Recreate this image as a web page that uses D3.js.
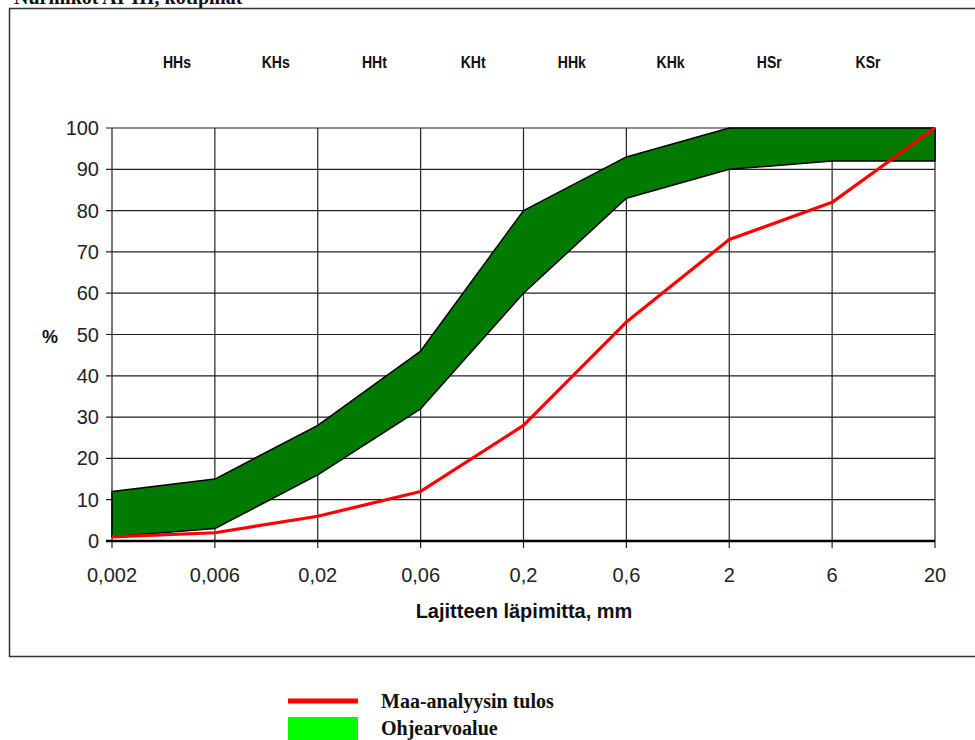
<!DOCTYPE html>
<html><head><meta charset="utf-8">
<script src="https://cdn.jsdelivr.net/npm/d3@7"></script>
<style>body{margin:0;background:#fff}svg{display:block}</style>
</head><body>
<svg id="c" width="975" height="740"></svg>
<script>
const title = "Nurmikot AI-III, kotipihat";
const sizes = ["0,002","0,006","0,02","0,06","0,2","0,6","2","6","20"];
const bandUpper = [12,15,28,46,80,93,100,100,100];
const bandLower = [1,3,16,32,60,83,90,92,92];
const result = [1,2,6,12,28,53,73,82,100];
const zones = ["HHs","KHs","HHt","KHt","HHk","KHk","HSr","KSr"];
const yTicks = [0,10,20,30,40,50,60,70,80,90,100];
const legendItems = ["Maa-analyysin tulos","Ohjearvoalue"];

const svg = d3.select("#c");
const x = d3.scalePoint().domain(sizes).range([112,935]);
const y = d3.scaleLinear().domain([0,100]).range([541,128]);
const zx = d3.scalePoint().domain(zones).range([177,868]);

// title (cropped at top, as in the source)
svg.append("text").attr("x",14).attr("y",4).attr("font-family","Liberation Serif, serif")
  .attr("font-weight","bold").attr("font-size",20).attr("fill","#111").text(title);

// outer frame
svg.append("rect").attr("x",9.5).attr("y",8.5).attr("width",1000).attr("height",648)
  .attr("fill","none").attr("stroke","#333").attr("stroke-width",1.5);

// gridlines
const g = svg.append("g");
g.selectAll(".hg").data(yTicks).join("line")
  .attr("x1",106).attr("x2",935).attr("y1",d=>y(d)).attr("y2",d=>y(d))
  .attr("stroke","#222").attr("stroke-width",1.2);
g.selectAll(".vg").data(sizes).join("line")
  .attr("x1",d=>x(d)).attr("x2",d=>x(d)).attr("y1",128).attr("y2",548)
  .attr("stroke","#222").attr("stroke-width",1.2);

// band
const band = sizes.map((s,i)=>({s,lo:bandLower[i],hi:bandUpper[i]}));
svg.append("path").datum(band)
  .attr("d",d3.area().x(d=>x(d.s)).y0(d=>y(d.lo)).y1(d=>y(d.hi)))
  .attr("fill","#007a00").attr("stroke","#000").attr("stroke-width",1.5).attr("stroke-linejoin","round");

// x axis baseline
svg.append("line").attr("x1",106).attr("x2",935).attr("y1",y(0)).attr("y2",y(0))
  .attr("stroke","#000").attr("stroke-width",2.5);

// result line
svg.append("path").datum(sizes.map((s,i)=>({s,v:result[i]})))
  .attr("d",d3.line().x(d=>x(d.s)).y(d=>y(d.v)))
  .attr("fill","none").attr("stroke","#ff0000").attr("stroke-width",3.2).attr("stroke-linejoin","round");

const sans = "Liberation Sans, Arial, sans-serif";
// y tick labels
svg.selectAll(".yl").data(yTicks).join("text")
  .attr("x",99).attr("y",d=>y(d)+7).attr("text-anchor","end")
  .attr("font-family",sans).attr("font-size",20).attr("fill","#222").text(d=>d);
// x tick labels
svg.selectAll(".xl").data(sizes).join("text")
  .attr("x",d=>x(d)).attr("y",582).attr("text-anchor","middle")
  .attr("font-family",sans).attr("font-size",20).attr("fill","#222").text(d=>d);
// zone labels
svg.selectAll(".zl").data(zones).join("text")
  .attr("x",d=>zx(d)).attr("y",68).attr("text-anchor","middle")
  .attr("font-family",sans).attr("font-weight","bold").attr("font-size",16)
  .attr("transform",d=>`translate(${zx(d)},0) scale(0.88,1) translate(${-zx(d)},0)`)
  .attr("fill","#111").text(d=>d);
// axis titles
svg.append("text").attr("x",50).attr("y",343).attr("text-anchor","middle")
  .attr("font-family",sans).attr("font-weight","bold").attr("font-size",18).attr("fill","#111").text("%");
svg.append("text").attr("x",524).attr("y",618).attr("text-anchor","middle")
  .attr("font-family",sans).attr("font-weight","bold").attr("font-size",20).attr("fill","#111").text("Lajitteen läpimitta, mm");

// legend
const lg = svg.append("g");
lg.append("line").attr("x1",288).attr("x2",358).attr("y1",701).attr("y2",701)
  .attr("stroke","#ff0000").attr("stroke-width",5);
lg.append("rect").attr("x",288).attr("y",717).attr("width",70).attr("height",25).attr("fill","#00ff00");
lg.selectAll("text").data(legendItems).join("text")
  .attr("x",381).attr("y",(d,i)=>708+i*27)
  .attr("font-family","Liberation Serif, serif").attr("font-weight","bold").attr("font-size",20)
  .attr("fill","#111").text(d=>d);
</script>
</body></html>
